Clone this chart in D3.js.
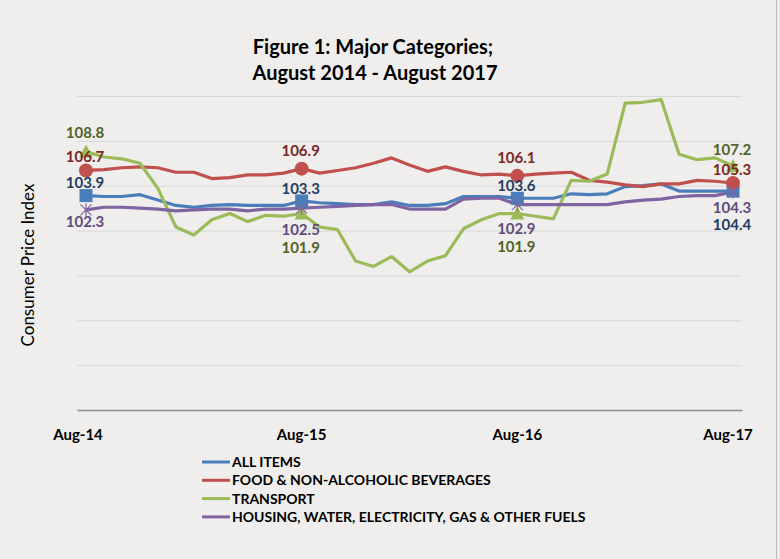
<!DOCTYPE html>
<html lang="en">
<head>
    <meta charset="UTF-8">
    <title>Figure 1: Major Categories</title>
    <script src="https://d3js.org/d3.v7.min.js"></script>
    <style>
        body { margin: 0; background: #ffffff; font-family: Lato, "Open Sans", Arial, sans-serif; }
        .grid line { stroke: #d9d9d9; stroke-width: 1; }
        .series { fill: none; stroke-width: 3.2; stroke-linejoin: round; }
        .lbl { font-size: 15px; font-weight: bold; text-anchor: middle; }
        .legend text { font-size: 14px; font-weight: bold; fill: #000; }
    </style>
</head>
<body>
    <svg width="780" height="559"></svg>
    <script>
        // months shown on the category axis (Aug-14 .. Aug-17)
        const months = ["Aug-14","Sep-14","Oct-14","Nov-14","Dec-14","Jan-15","Feb-15","Mar-15","Apr-15","May-15","Jun-15","Jul-15",
                        "Aug-15","Sep-15","Oct-15","Nov-15","Dec-15","Jan-16","Feb-16","Mar-16","Apr-16","May-16","Jun-16","Jul-16",
                        "Aug-16","Sep-16","Oct-16","Nov-16","Dec-16","Jan-17","Feb-17","Mar-17","Apr-17","May-17","Jun-17","Jul-17","Aug-17"];
        const tickMonths = ["Aug-14", "Aug-15", "Aug-16", "Aug-17"];
        const yTicks = [80, 85, 90, 95, 100, 105, 110, 115];

        const allItems = [103.9,103.8,103.8,104.0,103.4,102.8,102.6,102.8,102.9,102.8,102.8,102.8,
                          103.3,103.1,103.0,102.9,102.9,103.2,102.8,102.8,103.0,103.8,103.8,103.8,
                          103.6,103.6,103.6,104.1,104.0,104.1,104.9,105.0,105.2,104.4,104.4,104.4,104.4];
        const food = [106.7,106.8,107.0,107.1,107.0,106.5,106.5,105.8,105.9,106.2,106.2,106.4,
                      106.9,106.4,106.7,107.0,107.5,108.1,107.3,106.6,107.1,106.6,106.2,106.3,
                      106.1,106.3,106.4,106.5,105.6,105.4,105.1,104.9,105.2,105.2,105.6,105.5,105.3];
        const transport = [108.8,108.2,108.0,107.5,104.7,100.4,99.5,101.2,101.9,101.0,101.7,101.6,
                           101.9,100.4,100.1,96.6,96.0,97.1,95.4,96.6,97.2,100.2,101.2,101.9,
                           101.9,101.6,101.3,105.6,105.5,106.3,114.2,114.3,114.6,108.5,107.9,108.1,107.2];
        const housing = [102.3,102.6,102.6,102.5,102.4,102.2,102.3,102.4,102.4,102.2,102.4,102.4,
                         102.5,102.6,102.7,102.8,102.9,102.9,102.4,102.4,102.4,103.5,103.6,103.6,
                         102.9,102.9,102.9,102.9,102.9,102.9,103.2,103.4,103.5,103.8,103.9,103.9,104.3];

        const seriesNames = ["ALL ITEMS", "FOOD & NON-ALCOHOLIC BEVERAGES", "TRANSPORT",
                             "HOUSING, WATER, ELECTRICITY, GAS & OTHER FUELS"];

        const series = [
            { name: seriesNames[0], values: allItems, color: "#4a7ebb", text: "#1f3d63", marker: "square" },
            { name: seriesNames[1], values: food, color: "#c0504d", text: "#7a2626", marker: "circle" },
            { name: seriesNames[2], values: transport, color: "#9bbb59", text: "#4f6228", marker: "triangle" },
            { name: seriesNames[3], values: housing, color: "#8064a2", text: "#604a7b", marker: "star" }
        ];
        // vertical offset of each data label from its marker, at Aug-14/15/16/17
        const labelDy = [
            [-13, -12, -13, 34],
            [-14, -18, -18, -13],
            [-19, 34, 33, -16],
            [12, 22, 24, 16]
        ];

        const svg = d3.select("svg");
        svg.append("rect").attr("width", 780).attr("height", 559).attr("fill", "#efeeed");
        svg.append("line").attr("x1", 776.5).attr("x2", 776.5).attr("y1", 0).attr("y2", 559)
            .attr("stroke", "#bdbdbd");

        const plot = { left: 77, right: 742, top: 96, bottom: 410 };

        const x = d3.scaleBand().domain(months).range([plot.left, plot.right]).padding(0);
        const cx = m => x(m) + x.bandwidth() / 2;
        const y = d3.scaleLinear().domain([80, 115]).range([plot.bottom, plot.top]);

        // gridlines
        svg.append("g").attr("class", "grid")
            .selectAll("line").data(yTicks.slice(1)).enter().append("line")
            .attr("x1", plot.left).attr("x2", plot.right)
            .attr("y1", d => y(d) + 0.5).attr("y2", d => y(d) + 0.5);

        // category axis
        const xAxis = svg.append("g")
            .attr("transform", `translate(0,${plot.bottom})`)
            .call(d3.axisBottom(x).tickValues(tickMonths).tickSize(0).tickPadding(19));
        xAxis.select(".domain").attr("stroke", "#8c8c8c").attr("stroke-width", 1.3);
        xAxis.selectAll("text")
            .style("font-family", "Lato, sans-serif")
            .style("font-size", "15px").style("font-weight", "bold").attr("fill", "#000")
            .attr("dx", (d, i) => [-8, 0, 0, -5][i]);

        // axis title
        svg.append("text")
            .attr("transform", "translate(34,265) rotate(-90)")
            .attr("text-anchor", "middle")
            .style("font-size", "17px")
            .text("Consumer Price Index");

        // chart title
        const title = svg.append("text").attr("text-anchor", "middle")
            .style("font-size", "20px").style("font-weight", "bold");
        title.append("tspan").attr("x", 373).attr("y", 54).text("Figure 1: Major  Categories;");
        title.append("tspan").attr("x", 375).attr("y", 80).text("August 2014 - August 2017");

        const line = d3.line().x((d, i) => cx(months[i])).y(d => y(d));

        series.forEach(s => {
            svg.append("path").attr("class", "series")
                .attr("d", line(s.values))
                .attr("stroke", s.color);
        });

        function starPath(r) {
            return `M${-r},${-r}L${r},${r}M${-r},${r}L${r},${-r}M0,${-r * 1.2}L0,${r * 1.2}`;
        }

        // markers at each August
        series.forEach(s => {
            const g = svg.append("g");
            tickMonths.forEach(m => {
                const i = months.indexOf(m);
                const px = cx(m), py = y(s.values[i]);
                if (s.marker === "square") {
                    g.append("rect").attr("x", px - 6.5).attr("y", py - 6.5)
                        .attr("width", 13).attr("height", 13).attr("fill", s.color);
                } else if (s.marker === "circle") {
                    g.append("circle").attr("cx", px).attr("cy", py).attr("r", 7).attr("fill", s.color);
                } else if (s.marker === "triangle") {
                    g.append("path").attr("transform", `translate(${px},${py})`)
                        .attr("d", "M0,-7L7,6L-7,6Z").attr("fill", s.color);
                } else {
                    g.append("path").attr("transform", `translate(${px},${py})`)
                        .attr("d", starPath(5.5)).attr("stroke", s.color)
                        .attr("stroke-width", 1.2).attr("fill", "none");
                }
            });
        });

        // data labels
        series.forEach((s, si) => {
            tickMonths.forEach((m, k) => {
                const i = months.indexOf(m);
                svg.append("text").attr("class", "lbl")
                    .attr("x", cx(m) - 1)
                    .attr("y", y(s.values[i]) + labelDy[si][k])
                    .attr("dy", "0.35em")
                    .attr("fill", s.text)
                    .text(s.values[i].toFixed(1));
            });
        });

        // legend
        const legend = svg.append("g").attr("class", "legend");
        series.forEach((s, i) => {
            const ly = 462 + i * 18.3;
            legend.append("line").attr("x1", 202).attr("x2", 230)
                .attr("y1", ly).attr("y2", ly)
                .attr("stroke", s.color).attr("stroke-width", 3);
            legend.append("text").attr("x", 232).attr("y", ly).attr("dy", "0.35em").text(s.name);
        });
    </script>
</body>
</html>
